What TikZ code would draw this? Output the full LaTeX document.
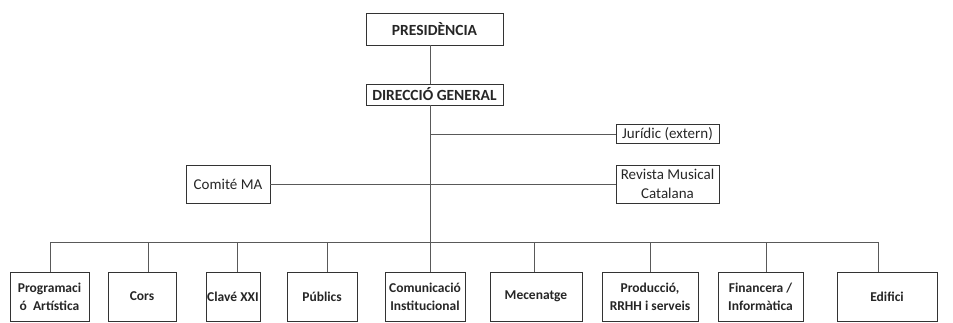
\documentclass[tikz,border=0pt]{standalone}
\usepackage{fontspec}
\setmainfont{Carlito}

\begin{document}
\begin{tikzpicture}[x=1pt,y=-1pt]

\tikzset{
  caixa/.style={draw=black!80, line width=0.8pt, inner sep=0pt, align=center, text=black!85},
  dalt/.style={caixa, font=\fontsize{15.5}{18}\selectfont\bfseries},
  mig/.style={caixa, line width=0.6pt, font=\fontsize{15}{19}\selectfont},
  baix/.style={caixa, minimum height=49pt, font=\fontsize{13.5}{18}\selectfont\bfseries},
  linia/.style={draw=black!65, line width=0.7pt}
}

\useasboundingbox (0,0) rectangle (953,323);

%Direccio
\node[dalt, minimum width=137pt, minimum height=32pt] (pres) at (434.5,29) {PRESIDÈNCIA};
\node[dalt, minimum width=137pt, minimum height=21pt] (dir) at (434.5,94.5) {DIRECCIÓ GENERAL};
\coordinate (tronc) at (430,242);
\draw[linia] (pres.south -| tronc) -- (dir.north -| tronc);
\draw[linia] (dir.south -| tronc) -- (tronc);

% Organs externs
\node[mig, minimum width=103pt, minimum height=19pt] (jur) at (667.5,134) {Jurídic (extern)};
\node[mig, minimum width=103pt, minimum height=38pt] (rev) at (667.5,184) {Revista Musical\\Catalana};
\node[mig, minimum width=84pt, minimum height=38pt] (comite) at (228,184) {Comité MA};
\draw[linia] (tronc |- jur.west) -- (jur.west);
\draw[linia] (comite.east) -- (rev.west);

% Arees
\node[baix, minimum width=79pt] (prog) at (49.5,296.5) {Programaci\\ó~ Artística};
\node[baix, minimum width=68pt] (cors) at (142,296.5) {Cors};
\node[baix, minimum width=54pt] (clave) at (233,296.5) {Clavé XXI};
\node[baix, minimum width=70pt] (publics) at (322,296.5) {Públics};
\node[baix, minimum width=80pt] (comunic) at (425,296.5) {Comunicació\\Institucional};
\node[baix, minimum width=92pt] (mecen) at (536,296.5) {Mecenatge};
\node[baix, minimum width=96pt] (produc) at (650,296.5) {Producció,\\RRHH i serveis};
\node[baix, minimum width=85pt] (financ) at (760.5,296.5) {Financera /\\Informàtica};
\node[baix, minimum width=100pt] (edif) at (887,296.5) {Edifici};

\foreach \b/\d in {prog/0.5, cors/6, clave/4, publics/5, comunic/5, mecen/-2, produc/0, financ/5.5, edif/-9}{
  \path (\b.north) ++(\d,0) coordinate (t\b);
  \draw[linia] (t\b) -- (t\b |- tronc);
}
\draw[linia] (tprog |- tronc) -- (tedif |- tronc);

\end{tikzpicture}
\end{document}
